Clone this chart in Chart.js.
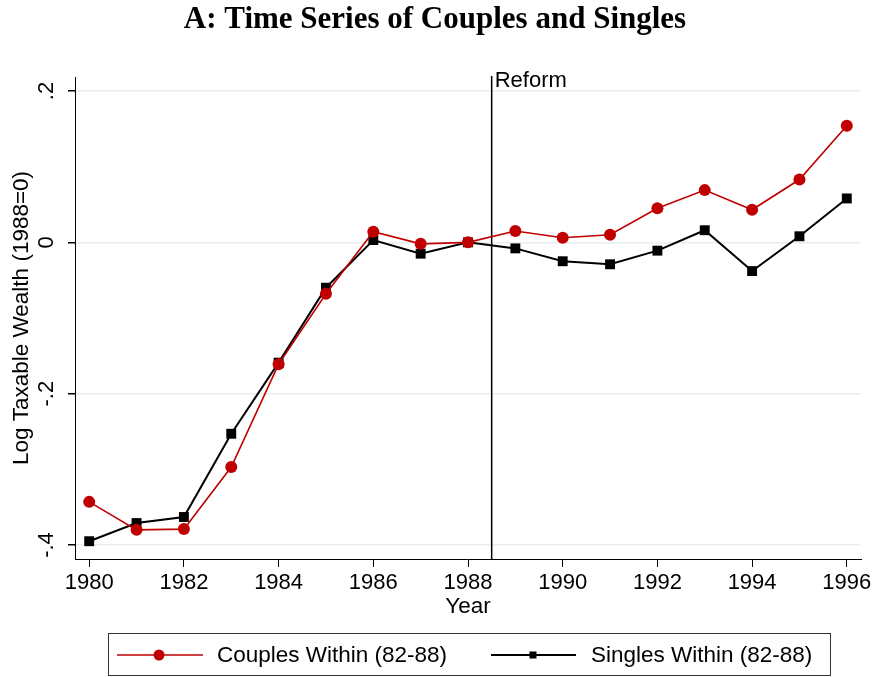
<!DOCTYPE html>
<html>
<head>
<meta charset="utf-8">
<script src="https://cdn.jsdelivr.net/npm/chart.js@4"></script>
<style>
  html, body { margin: 0; padding: 0; background: #fff; }
  #wrap { width: 876px; height: 677px; }
</style>
</head>
<body>
<div id="wrap"><canvas id="ts"></canvas></div>
<script>
// data
const years = [1980, 1981, 1982, 1983, 1984, 1985, 1986, 1987, 1988,
               1989, 1990, 1991, 1992, 1993, 1994, 1995, 1996];
const couples = [-0.343, -0.380, -0.379, -0.297, -0.161, -0.068, 0.014, -0.002, 0,
                 0.015, 0.006, 0.010, 0.045, 0.069, 0.043, 0.083, 0.154];
const singles = [-0.395, -0.371, -0.363, -0.253, -0.159, -0.060, 0.003, -0.015, 0,
                 -0.008, -0.025, -0.029, -0.011, 0.016, -0.038, 0.008, 0.058];
const xTicks = [1980, 1982, 1984, 1986, 1988, 1990, 1992, 1994, 1996];
const yTicks = [-0.4, -0.2, 0, 0.2];
const yTickLabels = ['-.4', '-.2', '0', '.2'];
const reformYear = 1988.5;

const RED = '#c00000';
const SANS = '"Liberation Sans", Arial, sans-serif';

const toPoints = vals => vals.map((v, i) => ({ x: years[i], y: v }));

// titles, rotated y labels, reform line and boxed legend
const extras = {
    id: 'extras',
    beforeDatasetsDraw(chart) {
        const { ctx, chartArea } = chart;
        const x = chart.scales.x.getPixelForValue(reformYear);
        ctx.save();
        ctx.strokeStyle = '#000';
        ctx.lineWidth = 1.5;
        ctx.beginPath();
        ctx.moveTo(x, chartArea.top - 1);
        ctx.lineTo(x, chartArea.bottom);
        ctx.stroke();
        ctx.restore();
    },
    afterDraw(chart) {
        const { ctx, chartArea } = chart;
        const ys = chart.scales.y;
        const xs = chart.scales.x;
        ctx.save();
        ctx.fillStyle = '#000';

        // main title
        ctx.font = 'bold 31px "Liberation Serif", serif';
        ctx.textAlign = 'center';
        ctx.textBaseline = 'alphabetic';
        ctx.fillText('A: Time Series of Couples and Singles', 435, 28);

        // reform label
        ctx.font = '22px ' + SANS;
        ctx.textAlign = 'left';
        ctx.fillText('Reform', xs.getPixelForValue(reformYear) + 3, 87);

        // y tick labels, rotated
        yTicks.forEach((v, i) => {
            ctx.save();
            ctx.translate(47, ys.getPixelForValue(v));
            ctx.rotate(-Math.PI / 2);
            ctx.textAlign = 'center';
            ctx.textBaseline = 'middle';
            ctx.fillText(yTickLabels[i], 0, 0);
            ctx.restore();
        });

        ctx.font = '22.5px ' + SANS;

        // y title
        ctx.save();
        ctx.translate(22, (chartArea.top + chartArea.bottom) / 2);
        ctx.rotate(-Math.PI / 2);
        ctx.textAlign = 'center';
        ctx.textBaseline = 'middle';
        ctx.fillText('Log Taxable Wealth (1988=0)', 0, 0);
        ctx.restore();

        // x title
        ctx.textAlign = 'center';
        ctx.textBaseline = 'middle';
        ctx.fillText('Year', (chartArea.left + chartArea.right) / 2, 607);

        // legend
        ctx.strokeStyle = '#333';
        ctx.lineWidth = 1;
        ctx.strokeRect(108.5, 633.5, 722, 42);
        const ly = 655;
        ctx.strokeStyle = RED;
        ctx.lineWidth = 1.5;
        ctx.beginPath(); ctx.moveTo(117, ly); ctx.lineTo(203, ly); ctx.stroke();
        ctx.fillStyle = RED;
        ctx.beginPath(); ctx.arc(159, ly, 5.5, 0, Math.PI * 2); ctx.fill();
        ctx.strokeStyle = '#000';
        ctx.lineWidth = 2;
        ctx.beginPath(); ctx.moveTo(491, ly); ctx.lineTo(576, ly); ctx.stroke();
        ctx.fillStyle = '#000';
        ctx.fillRect(529.5, ly - 3.5, 7, 7);
        ctx.textAlign = 'left';
        ctx.textBaseline = 'middle';
        ctx.fillText('Couples Within (82-88)', 217, ly + 1);
        ctx.fillText('Singles Within (82-88)', 591, ly + 1);
        ctx.restore();
    }
};

new Chart(document.getElementById('ts'), {
    type: 'line',
    data: {
        datasets: [{
            label: 'Couples Within (82-88)',
            data: toPoints(couples),
            borderColor: RED,
            backgroundColor: RED,
            borderWidth: 1.6,
            pointStyle: 'circle',
            pointRadius: 6,
            pointBorderWidth: 0,
            tension: 0
        }, {
            label: 'Singles Within (82-88)',
            data: toPoints(singles),
            borderColor: '#000',
            backgroundColor: '#000',
            borderWidth: 2,
            pointStyle: 'rect',
            pointRadius: 7,
            pointBorderWidth: 0,
            tension: 0
        }]
    },
    options: {
        responsive: true,
        maintainAspectRatio: false,
        animation: false,
        layout: { padding: { top: 77, right: 15, left: 0, bottom: 0 } },
        plugins: {
            legend: { display: false },
            tooltip: { enabled: false }
        },
        scales: {
            x: {
                type: 'linear',
                min: 1979.7,
                max: 1996.3,
                afterBuildTicks: s => { s.ticks = xTicks.map(v => ({ value: v })); },
                afterFit: s => { s.height = 118; },
                grid: { drawOnChartArea: false, drawTicks: true, tickLength: 8, tickColor: '#000' },
                border: { display: true, color: '#000', width: 1 },
                ticks: {
                    color: '#000',
                    font: { family: SANS, size: 22 },
                    padding: 3,
                    maxRotation: 0,
                    callback: v => String(v)
                }
            },
            y: {
                min: -0.4185,
                max: 0.2185,
                afterBuildTicks: s => { s.ticks = yTicks.map(v => ({ value: v })); },
                afterFit: s => { s.width = 75; },
                grid: { color: '#e6eef1', lineWidth: 1.5, drawTicks: true, tickLength: 7, tickColor: '#000' },
                border: { display: true, color: '#000', width: 1 },
                ticks: { display: false }
            }
        }
    },
    plugins: [extras]
});
</script>
</body>
</html>
